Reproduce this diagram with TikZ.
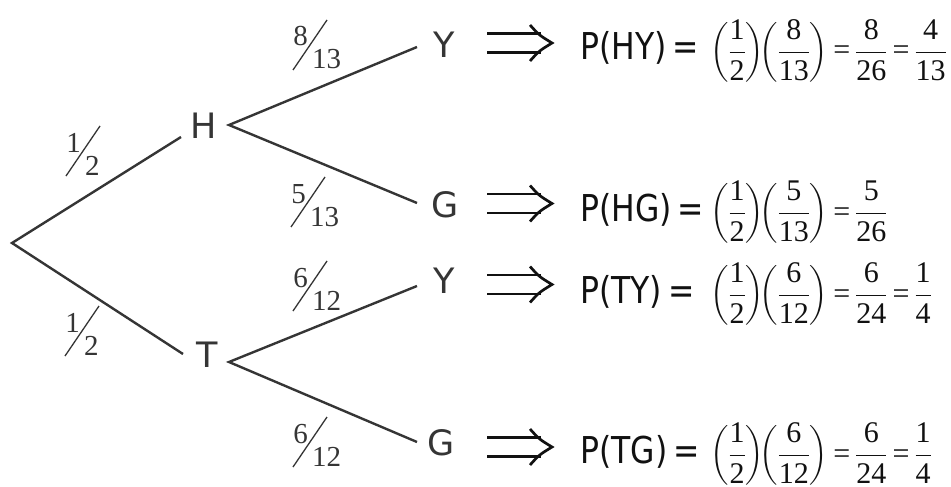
\RequirePackage{fix-cm}
\documentclass[tikz,border=0pt]{standalone}
\usepackage{amsmath}
\usepackage{fontspec}
\setmainfont{Liberation Serif}
\newfontfamily\lblfont{DejaVu Sans}
\newfontfamily\fmlsans[FakeStretch=0.85]{DejaVu Sans}
\usetikzlibrary{calc}
\definecolor{ink}{HTML}{353535}
\definecolor{fink}{HTML}{111111}
\newcommand\pf[2]{\dfrac{\mbox{#1}}{\mbox{#2}}}
\newcommand\eqs{\mskip 3mu\mbox{=}\mskip 3mu}
\newcommand\lpar{\mathopen{\vcenter{\hbox{$\mathchar"0312$}}}}
\newcommand\rpar{\mathclose{\vcenter{\hbox{$\mathchar"0313$}}}}
\newcommand\bp[1]{\lpar #1\rpar}
% slanted fraction label: name, cx, cy, numerator, denominator
\newcommand\slfr[5]{%
  \node[fnum, anchor=base east] (#1n) at (#2-2,#3+1) {#4};
  \node[fnum, anchor=base west] (#1d) at (#2+2,#3+24) {#5};
  \draw[slash] (#2+17,#3-25) -- (#2-17,#3+25);}
\begin{document}
\begin{tikzpicture}[x=1pt,y=-1pt,
  lbl/.style={font=\lblfont\fontsize{35}{40}\selectfont, text=ink, inner sep=0pt},
  branch/.style={draw=ink, line width=2.4pt},
  fnum/.style={font=\fontsize{29}{34}\selectfont, text=ink, inner sep=0pt},
  slash/.style={draw=ink, line width=1.3pt},
  fsans/.style={font=\fmlsans\fontsize{37}{40}\selectfont, text=fink, inner sep=0pt, anchor=base west},
  fml/.style={font=\fontsize{30}{35}\selectfont, text=fink, inner sep=0pt, anchor=base west},
  impl/.style={draw=fink, line width=2.7pt},
  implies/.pic={\draw[impl] (0,-9.5) -- (54,-9.5) (0,9.5) -- (54,9.5);
     \draw[impl] (43,-18) .. controls (52,-8) .. (65,0) .. controls (52,8) .. (43,18);}
]
\useasboundingbox (0,0) rectangle (951,487);
\coordinate (root) at (12,243);
\node[lbl] (H) at (204,126) {H};
\node[lbl] (T) at (207,355) {T};
\node[lbl] (Y1) at (444,45) {Y};
\node[lbl] (G1) at (445,205) {G};
\node[lbl] (Y2) at (444,281) {Y};
\node[lbl] (G2) at (441,443) {G};
% branches
\draw[branch] ($(H)+(-23,11)$) -- (root) -- ($(T)+(-24,-1)$);
\draw[branch] ($(Y1)+(-27,2)$) -- ($(H)+(25,-1)$) -- ($(G1)+(-28,-2)$);
\draw[branch] ($(Y2)+(-27,5)$) -- ($(T)+(22,7)$) -- ($(G2)+(-24,-1)$);
% probabilities
\slfr{a}{83}{151}{1}{2}
\slfr{b}{82}{331}{1}{2}
\slfr{c}{310}{45}{8}{13}
\slfr{d}{308}{202}{5}{13}
\slfr{e}{310}{286}{6}{12}
\slfr{f}{310}{442}{6}{12}
% implication arrows
\pic at ($(Y1)+(43,-2)$) {implies};
\pic at ($(G1)+(42,-1.5)$) {implies};
\pic at ($(Y2)+(43,3.5)$) {implies};
\pic at ($(G2)+(46,4)$) {implies};
% formulas
\node[fsans] (p1) at (580,60) {P(HY)\,=};
\node[fml] (f1) at (710,60) {$\bp{\pf{1}{2}}\!\bp{\pf{8}{13}}\eqs\pf{8}{26}\eqs\pf{4}{13}$};
\node[fsans] (p2) at (580,221) {P(HG)\,=};
\node[fml] (f2) at (710,221) {$\bp{\pf{1}{2}}\!\bp{\pf{5}{13}}\eqs\pf{5}{26}$};
\node[fsans] (p3) at (580,303) {P(TY)\,=};
\node[fml] (f3) at (710,303) {$\bp{\pf{1}{2}}\!\bp{\pf{6}{12}}\eqs\pf{6}{24}\eqs\pf{1}{4}$};
\node[fsans] (p4) at (580,463) {P(TG)\,=};
\node[fml] (f4) at (710,463) {$\bp{\pf{1}{2}}\!\bp{\pf{6}{12}}\eqs\pf{6}{24}\eqs\pf{1}{4}$};
\end{tikzpicture}
\end{document}
